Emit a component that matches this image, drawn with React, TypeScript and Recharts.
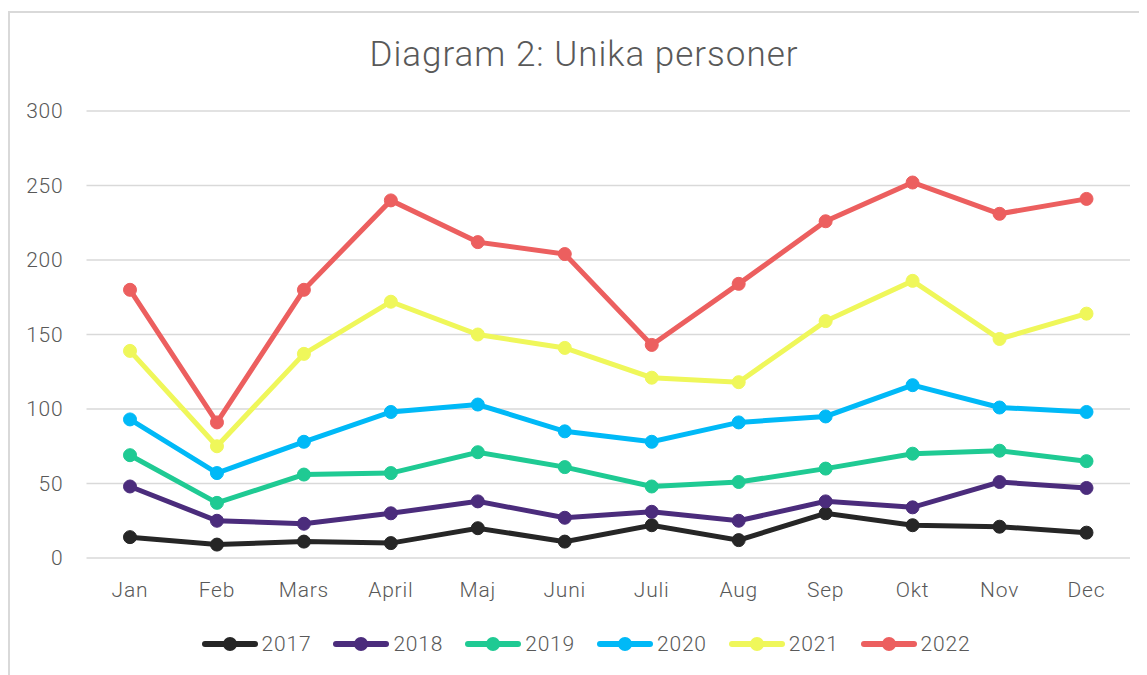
import React from 'react';
import { LineChart, Line, XAxis, YAxis, CartesianGrid } from 'recharts';

const months = ['Jan', 'Feb', 'Mars', 'April', 'Maj', 'Juni', 'Juli', 'Aug', 'Sep', 'Okt', 'Nov', 'Dec'];
const y2017 = [14, 9, 11, 10, 20, 11, 22, 12, 30, 22, 21, 17];
const y2018 = [48, 25, 23, 30, 38, 27, 31, 25, 38, 34, 51, 47];
const y2019 = [69, 37, 56, 57, 71, 61, 48, 51, 60, 70, 72, 65];
const y2020 = [93, 57, 78, 98, 103, 85, 78, 91, 95, 116, 101, 98];
const y2021 = [139, 75, 137, 172, 150, 141, 121, 118, 159, 186, 147, 164];
const y2022 = [180, 91, 180, 240, 212, 204, 143, 184, 226, 252, 231, 241];
const yTicks = [0, 50, 100, 150, 200, 250, 300];

const series = [
  { key: '2017', values: y2017, color: '#262626' },
  { key: '2018', values: y2018, color: '#4b2c7c' },
  { key: '2019', values: y2019, color: '#1fca93' },
  { key: '2020', values: y2020, color: '#00b9f7' },
  { key: '2021', values: y2021, color: '#eff75a' },
  { key: '2022', values: y2022, color: '#ec5f5f' },
];

const data = months.map((m, i) => {
  const row: Record<string, string | number> = { name: m };
  series.forEach((s) => {
    row[s.key] = s.values[i];
  });
  return row;
});

const font = 'Roboto, sans-serif';
const textColor = '#595959';
const tickStyle = { fill: textColor, fontSize: 21, fontFamily: font, fontWeight: 300, letterSpacing: 0.8 };

const App: React.FC = () => {
  return (
    <div
      style={{
        position: 'relative',
        marginTop: 3,
        width: 1139,
        height: 670,
        borderTop: '2px solid #d9d9d9',
        borderLeft: '2px solid #d9d9d9',
        boxSizing: 'border-box',
        fontFamily: font,
        background: '#fff',
      }}
    >
      <div
        style={{
          position: 'absolute',
          top: 21,
          left: 18,
          width: 1112,
          textAlign: 'center',
          fontSize: 35,
          letterSpacing: 1,
          color: textColor,
          fontWeight: 300,
        }}
      >
        Diagram 2: Unika personer
      </div>
      <LineChart
        width={1128}
        height={660}
        data={data}
        margin={{ top: 98, right: 8, left: 0, bottom: 85 }}
      >
        <CartesianGrid vertical={false} stroke="#d9d9d9" strokeWidth={1.5} />
        <XAxis
          dataKey="name"
          axisLine={false}
          tickLine={false}
          tickSize={0}
          tickMargin={24}
          height={30}
          padding={{ left: 43.5, right: 43.5 }}
          tick={tickStyle}
        />
        <YAxis
          domain={[0, 300]}
          ticks={yTicks}
          width={76.5}
          axisLine={false}
          tickLine={false}
          tickSize={0}
          tickMargin={23}
          tick={tickStyle}
        />
        {series.map((s) => (
          <Line
            key={s.key}
            dataKey={s.key}
            type="linear"
            stroke={s.color}
            strokeWidth={5}
            dot={{ r: 6.5, fill: s.color, stroke: s.color, strokeWidth: 1 }}
            activeDot={false}
            isAnimationActive={false}
          />
        ))}
      </LineChart>
      <div
        style={{
          position: 'absolute',
          top: 619,
          left: 22,
          width: 1108,
          display: 'flex',
          justifyContent: 'center',
          gap: 22,
        }}
      >
        {series.map((s) => (
          <div key={s.key} style={{ display: 'flex', alignItems: 'center' }}>
            <svg width={56} height={20}>
              <line x1={3} y1={10} x2={53} y2={10} stroke={s.color} strokeWidth={6} strokeLinecap="round" />
              <circle cx={28} cy={10} r={7} fill={s.color} />
            </svg>
            <span style={{ marginLeft: 4, fontSize: 21, fontWeight: 300, letterSpacing: 0.8, color: textColor }}>
              {s.key}
            </span>
          </div>
        ))}
      </div>
    </div>
  );
};

export default App;
